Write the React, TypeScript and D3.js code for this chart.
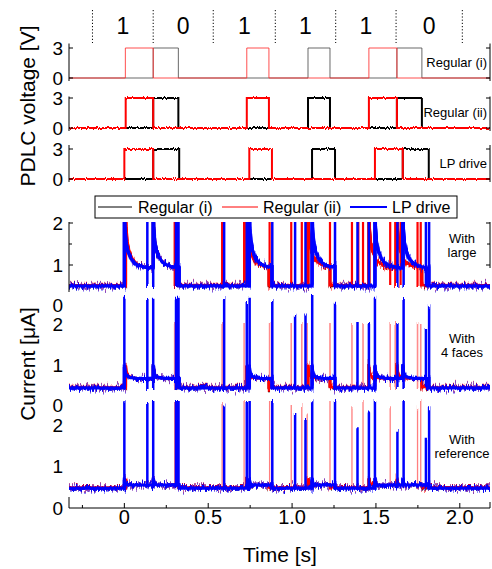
import React from 'react';
import * as d3 from 'd3';

// ---------- data ----------
const BIT_LABELS = ['1', '0', '1', '1', '1', '0'];
const BIT_EDGES = [-0.19, 0.172, 0.53, 0.9, 1.26, 1.62, 2.015];

// voltage pulses [start, end] (s), level 3 V
const REG1_RED = [[0.006, 0.172], [0.73, 0.862], [1.458, 1.625]];
const REG1_BLACK = [[0.172, 0.322], [1.095, 1.226], [1.625, 1.774]];
const REG2_RED = [[0.008, 0.172], [0.73, 0.862], [1.458, 1.625]];
const REG2_BLACK = [[0.172, 0.322], [1.095, 1.226], [1.625, 1.774]];
const LP_RED = [[0.0, 0.172], [0.745, 0.88], [1.494, 1.66]];
const LP_BLACK = [[0.172, 0.327], [1.119, 1.256], [1.66, 1.815]];
const PULSE_LEVEL = 3;

// current: baseline and decay shape after each pulse edge [dt, value]
const BASE_1 = 0.5;
const BASE_2 = 0.45;
const BASE_3 = 0.47;
const DECAY_1 = [[0, 2.6], [0.003, 1.9], [0.01, 1.55], [0.02, 1.35], [0.035, 1.18], [0.055, 1.07], [0.08, 1.0], [0.11, 0.96], [0.15, 0.93], [0.25, 0.92]];
const DECAY_2 = [[0, 1.0], [0.003, 0.86], [0.008, 0.78], [0.018, 0.73], [0.035, 0.7], [0.07, 0.68], [0.2, 0.67]];
const DECAY_3 = [[0, 0.7], [0.005, 0.59], [0.02, 0.55], [0.2, 0.54]];

// spikes: times (s) and peak values per panel
const BLUE_SPIKE_T = [0, 0.137, 0.172, 0.308, 0.323, 0.595, 0.73, 0.747, 0.882, 1.018, 1.08, 1.12, 1.256, 1.39, 1.458, 1.494, 1.628, 1.665, 1.798, 1.817];
const BLUE_PEAK_1 = [2.6, 2.6, 2.6, 2.6, 2.6, 2.6, 2.6, 2.6, 2.6, 2.6, 2.6, 2.6, 2.6, 2.6, 2.6, 2.6, 2.6, 2.6, 2.6, 2.6];
const BLUE_PEAK_2 = [2.6, 2.57, 2.6, 2.6, 2.6, 2.57, 2.5, 2.6, 2.55, 2.17, 2.2, 2.64, 2.48, 2.0, 2.0, 2.6, 2.0, 2.57, 1.86, 2.4];
const BLUE_PEAK_3 = [2.54, 2.5, 2.55, 2.55, 2.55, 2.44, 2.55, 2.55, 2.55, 2.26, 2.14, 2.54, 2.55, 1.9, 2.3, 2.55, 1.84, 2.55, 1.67, 2.4];

const RED_SPIKE_T = [0.3, 0.583, 0.714, 0.866, 0.995, 1.058, 1.09, 1.226, 1.357, 1.395, 1.423, 1.46, 1.585, 1.615, 1.647, 1.748, 1.767];
const RED_PEAK_1 = [2.6, 2.6, 2.6, 2.6, 2.6, 2.6, 2.6, 2.6, 2.6, 2.6, 2.6, 2.6, 2.6, 2.6, 2.6, 2.6, 2.6];
const RED_PEAK_2 = [2.0, 2.0, 2.0, 2.0, 2.0, 2.0, 2.0, 2.0, 2.0, 0, 2.0, 2.0, 2.0, 2.0, 0, 2.0, 2.0];
const RED_PEAK_3 = [2.55, 2.5, 2.55, 2.55, 2.45, 2.45, 2.3, 2.55, 2.4, 0, 2.55, 0, 2.4, 0, 0, 2.4, 2.55];

const X_TICKS = [0, 0.5, 1.0, 1.5, 2.0];
const X_TICK_LABELS = ['0', '0.5', '1.0', '1.5', '2.0'];
const X_MINOR = [-0.25, 0.25, 0.75, 1.25, 1.75];
const V_TICKS = [0, 3];
const I_TICKS = [0, 1, 2];
const SERIES = ['Regular (i)', 'Regular (ii)', 'LP drive'];
const V_PANEL_LABELS = ['Regular (i)', 'Regular (ii)', 'LP drive'];
const I_PANEL_LABELS = [['With', 'large'], ['With', '4 faces'], ['With', 'reference']];

// ---------- layout ----------
const W = 492, H = 569;
const X_DOMAIN = [-0.33, 2.18];
const PL = 69, PR = 490;
const FONT = 'Liberation Sans, Arial, Helvetica, sans-serif';
const BLUE = '#0000ff', RED = '#ff0000';

const xs = d3.scaleLinear().domain(X_DOMAIN).range([PL, PR]);

const V_ZERO = [78, 128, 179];
const V_TOP = [43.5, 96.5, 145];
const vScale = (i: number) => d3.scaleLinear().domain([0, 3]).range([V_ZERO[i], V_ZERO[i] - 30]);

const I_ZERO = [307, 407, 508];
const I_CLIP = [[222, 293], [293, 397], [397, 508]];
const iScale = (i: number) => d3.scaleLinear().domain([0, 1]).range([I_ZERO[i], I_ZERO[i] - 42]);

function squareWave(pulses: number[][]) {
  const pts: number[][] = [[X_DOMAIN[0], 0]];
  pulses.forEach(([s, e]) => {
    pts.push([s, 0], [s, PULSE_LEVEL], [e, PULSE_LEVEL], [e, 0]);
  });
  pts.push([X_DOMAIN[1], 0]);
  return pts;
}

function currentTrace(red: number[][], black: number[][], base: number, decay: number[][]) {
  const pulses = [...red, ...black].sort((a, b) => a[0] - b[0]);
  const pts: number[][] = [[X_DOMAIN[0], base]];
  let i = 0;
  while (i < pulses.length) {
    const start = pulses[i][0];
    let end = pulses[i][1];
    const trans = [start];
    while (i + 1 < pulses.length && Math.abs(pulses[i + 1][0] - end) < 0.01) {
      i++;
      trans.push(pulses[i][0]);
      end = pulses[i][1];
    }
    pts.push([start, base]);
    trans.forEach((a, k) => {
      const b = k + 1 < trans.length ? trans[k + 1] : end;
      let last = decay[0][1];
      decay.forEach(([dt, v]) => {
        if (a + dt < b) { pts.push([a + dt, v]); last = v; }
      });
      pts.push([b, last]);
    });
    pts.push([end, base]);
    i++;
  }
  pts.push([X_DOMAIN[1], base]);
  return pts;
}

function spikePath(times: number[], peaks: number[], base: number, ys: d3.ScaleLinear<number, number>) {
  return times
    .map((t, k) => (peaks[k] > 0 ? `M${xs(t)},${ys(base)}L${xs(t)},${ys(peaks[k])}` : ''))
    .join('');
}

const lineOf = (ys: d3.ScaleLinear<number, number>) =>
  d3.line<number[]>().x((d) => xs(d[0])).y((d) => ys(d[1]));

const NoiseFilter = ({ id, scale, seed, freq }: { id: string; scale: number; seed: number; freq: string }) => (
  <filter id={id} filterUnits="userSpaceOnUse" x={0} y={0} width={W} height={H} colorInterpolationFilters="sRGB">
    <feTurbulence type="fractalNoise" baseFrequency={freq} numOctaves={2} seed={seed} result="t" />
    <feColorMatrix in="t" type="matrix" values="0 0 0 0 0.5  0 1 0 0 0  0 0 0 0 0  0 0 0 0 1" result="m" />
    <feDisplacementMap in="SourceGraphic" in2="m" scale={scale} xChannelSelector="R" yChannelSelector="G" />
  </filter>
);

export default function App() {
  const vPanels = [
    { red: REG1_RED, black: REG1_BLACK, thin: true },
    { red: REG2_RED, black: REG2_BLACK, thin: false },
    { red: LP_RED, black: LP_BLACK, thin: false },
  ];
  const iPanels = [
    { base: BASE_1, decay: DECAY_1, bp: BLUE_PEAK_1, rp: RED_PEAK_1, redOp: 1, redW: 2.2 },
    { base: BASE_2, decay: DECAY_2, bp: BLUE_PEAK_2, rp: RED_PEAK_2, redOp: 0.45, redW: 1.6 },
    { base: BASE_3, decay: DECAY_3, bp: BLUE_PEAK_3, rp: RED_PEAK_3, redOp: 0.5, redW: 1.3 },
  ];

  const labelY = (i: number, v: number) => {
    const y = iScale(i)(v);
    if (v === 0 && i < 2) return y - 2;
    if (v === 2 && i > 0) return y + 1;
    return y;
  };

  return (
    <svg width={W} height={H} style={{ position: 'absolute', left: 0, top: 0, background: '#fff' }} fontFamily={FONT}>
      <defs>
        <NoiseFilter id="nzCore" scale={10} seed={3} freq="0.9 0.04" />
        <NoiseFilter id="nzHalo" scale={18} seed={7} freq="0.9 0.04" />
        <NoiseFilter id="nzV" scale={3.5} seed={11} freq="0.9 0.05" />
        {I_CLIP.map(([a, b], i) => (
          <clipPath id={`ic${i}`} key={i}>
            <rect x={PL} y={a} width={PR - PL} height={b - a} />
          </clipPath>
        ))}
        {V_ZERO.map((z, i) => (
          <clipPath id={`vc${i}`} key={i}>
            <rect x={PL} y={V_TOP[i] - 2} width={PR - PL} height={z + 6 - V_TOP[i]} />
          </clipPath>
        ))}
      </defs>
      <rect x={0} y={0} width={W} height={H} fill="#fff" />

      {/* bit labels */}
      {BIT_EDGES.map((t, i) => (
        <line key={i} x1={xs(t)} x2={xs(t)} y1={10} y2={43} stroke="#000" strokeWidth={1} strokeDasharray="1.2 2" />
      ))}
      {BIT_LABELS.map((b, i) => (
        <text key={i} x={xs((BIT_EDGES[i] + BIT_EDGES[i + 1]) / 2)} y={34} fontSize={23} textAnchor="middle">{b}</text>
      ))}

      {/* voltage panels */}
      {vPanels.map((p, i) => {
        const ys = vScale(i);
        const ln = lineOf(ys);
        return (
          <g key={i}>
            <g clipPath={`url(#vc${i})`}>
              {p.thin ? (
                <g>
                  <path d={ln(squareWave(p.black)) || ''} fill="none" stroke="#444" strokeWidth={1} opacity={0.8} />
                  <path d={ln(squareWave(p.red)) || ''} fill="none" stroke="#ff3030" strokeWidth={1} opacity={0.85} />
                </g>
              ) : (
                <g filter="url(#nzV)">
                  <path d={ln(squareWave(p.black)) || ''} fill="none" stroke="#000" strokeWidth={2} />
                  <path d={ln(squareWave(p.red)) || ''} fill="none" stroke={RED} strokeWidth={2} />
                </g>
              )}
            </g>
            <line x1={PL} x2={PL} y1={V_TOP[i]} y2={V_ZERO[i] + 3} stroke="#000" />
            <line x1={PR} x2={PR} y1={V_TOP[i]} y2={V_ZERO[i] + 3} stroke="#000" />
            {V_TICKS.map((v) => (
              <g key={v}>
                <line x1={PL} x2={PL + 4} y1={ys(v)} y2={ys(v)} stroke="#000" />
                <line x1={PR} x2={PR - 4} y1={ys(v)} y2={ys(v)} stroke="#000" />
                <text x={63} y={ys(v)} dy="0.36em" fontSize={19} textAnchor="end">{v}</text>
              </g>
            ))}
            <text x={487} y={V_ZERO[i] - 16} dy="0.36em" fontSize={13} textAnchor="end">{V_PANEL_LABELS[i]}</text>
          </g>
        );
      })}

      {/* current panels */}
      {iPanels.map((p, i) => {
        const ys = iScale(i);
        const ln = lineOf(ys);
        const redTrace = ln(currentTrace(REG2_RED, REG2_BLACK, p.base + 0.02, p.decay)) || '';
        const blackTrace = ln(currentTrace(REG1_RED, REG1_BLACK, p.base, p.decay)) || '';
        const blueTrace = ln(currentTrace(LP_RED, LP_BLACK, p.base, p.decay)) || '';
        return (
          <g key={i} clipPath={`url(#ic${i})`}>
            <g filter="url(#nzCore)">
              <path d={blackTrace} fill="none" stroke="#000" strokeWidth={2.5} />
            </g>
            <g filter="url(#nzHalo)">
              <path d={redTrace} fill="none" stroke={RED} strokeWidth={3} opacity={0.5} />
            </g>
            <path d={redTrace} fill="none" stroke={RED} strokeWidth={2.2} />
            <g filter="url(#nzCore)">
              <path d={redTrace} fill="none" stroke={RED} strokeWidth={2.8} />
              <path d={spikePath(RED_SPIKE_T, p.rp, p.base, ys)} fill="none" stroke={RED} strokeWidth={p.redW} opacity={p.redOp} />
            </g>
            <g filter="url(#nzHalo)">
              <path d={blueTrace} fill="none" stroke={BLUE} strokeWidth={3.5} opacity={0.45} />
            </g>
            <path d={blueTrace} fill="none" stroke={BLUE} strokeWidth={3} />
            <g filter="url(#nzCore)">
              <path d={blueTrace} fill="none" stroke={BLUE} strokeWidth={3.2} />
              <path d={spikePath(BLUE_SPIKE_T, p.bp, p.base, ys)} fill="none" stroke={BLUE} strokeWidth={2.5} />
            </g>
          </g>
        );
      })}

      {/* current axes */}
      <line x1={PL} x2={PL} y1={222} y2={292} stroke="#000" />
      {[2, 1.5, 1].map((v) => (
        <g key={v}>
          <line x1={PL} x2={PL + (v % 1 === 0 ? 4 : 3)} y1={iScale(0)(v)} y2={iScale(0)(v)} stroke="#000" />
          <line x1={PR} x2={PR - (v % 1 === 0 ? 4 : 3)} y1={iScale(0)(v)} y2={iScale(0)(v)} stroke="#000" />
        </g>
      ))}
      <line x1={PR} x2={PR} y1={222} y2={268} stroke="#000" />
      {I_ZERO.map((z, i) =>
        I_TICKS.map((v) => (
          <text key={`${i}-${v}`} x={63} y={labelY(i, v)} dy="0.36em" fontSize={19} textAnchor="end">{v}</text>
        ))
      )}
      {I_PANEL_LABELS.map((lines, i) => (
        <text key={i} x={462} y={I_ZERO[i] - 64} fontSize={13} textAnchor="middle">
          {lines.map((l, k) => (
            <tspan key={k} x={462} dy={k === 0 ? 0 : 14}>{l}</tspan>
          ))}
        </text>
      ))}

      {/* x axis */}
      <line x1={PL} x2={PR} y1={508} y2={508} stroke="#000" />
      <line x1={PL} x2={PL} y1={497} y2={508} stroke="#000" />
      <line x1={PR} x2={PR} y1={502} y2={508} stroke="#000" />
      {X_TICKS.map((t, k) => (
        <g key={t}>
          <line x1={xs(t)} x2={xs(t)} y1={508} y2={503} stroke="#000" />
          <text x={xs(t)} y={524} fontSize={20} textAnchor="middle">{X_TICK_LABELS[k]}</text>
        </g>
      ))}
      {X_MINOR.map((t) => (
        <line key={t} x1={xs(t)} x2={xs(t)} y1={508} y2={505} stroke="#000" />
      ))}
      <text x={280} y={562} fontSize={21} textAnchor="middle">Time [s]</text>

      {/* y titles */}
      <text transform="translate(35,106) rotate(-90)" fontSize={21} textAnchor="middle">PDLC voltage [V]</text>
      <text transform="translate(35,364) rotate(-90)" fontSize={21} textAnchor="middle">Current [μA]</text>

      {/* legend */}
      <rect x={95} y={196} width={362} height={22} fill="#fff" stroke="#000" strokeWidth={1} />
      <line x1={98} x2={132} y1={207} y2={207} stroke="#000" strokeWidth={1} />
      <text x={138} y={213} fontSize={16}>{SERIES[0]}</text>
      <line x1={222} x2={258} y1={207} y2={207} stroke={RED} strokeWidth={1} />
      <text x={263} y={213} fontSize={16}>{SERIES[1]}</text>
      <line x1={350} x2={387} y1={207} y2={207} stroke={BLUE} strokeWidth={2} />
      <text x={392} y={213} fontSize={16}>{SERIES[2]}</text>
    </svg>
  );
}
